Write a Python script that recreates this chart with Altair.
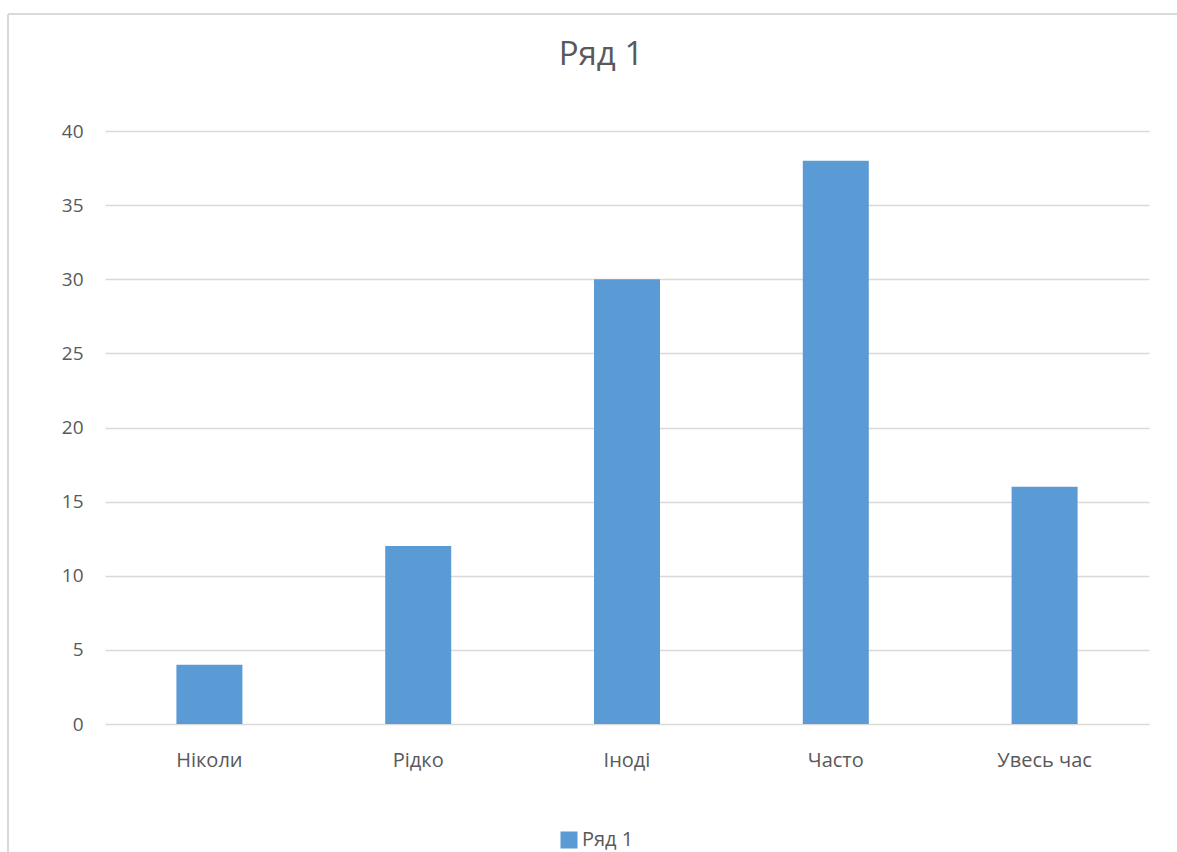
import altair as alt
import pandas as pd

categories = ["Ніколи", "Рідко", "Іноді", "Часто", "Увесь час"]
values = [4, 12, 30, 38, 16]
series_name = "Ряд 1"
y_ticks = [0, 5, 10, 15, 20, 25, 30, 35, 40]

df = pd.DataFrame({"cat": categories, "val": values, "series": [series_name] * len(categories)})

FONT = "Open Sans"
GRAY = "#595959"
W, H = 1044, 593

bars = alt.Chart(df).mark_bar(size=66, color="#5B9BD5").encode(
    x=alt.X("cat:N", sort=categories, title=None,
            scale=alt.Scale(paddingInner=0, paddingOuter=0),
            axis=alt.Axis(labelAngle=0, labelFontSize=20, labelColor=GRAY, labelFont=FONT,
                          domain=False, ticks=False, labelPadding=26)),
    y=alt.Y("val:Q", title=None, scale=alt.Scale(domain=[0, 40], nice=False),
            axis=alt.Axis(values=y_ticks, labelFontSize=19, labelColor=GRAY, labelFont=FONT,
                          domain=False, ticks=False, labelPadding=22,
                          gridColor="#d9d9d9", gridWidth=1.5)),
    color=alt.Color("series:N", scale=alt.Scale(range=["#5B9BD5"]),
                    legend=alt.Legend(title=None, orient="none", legendX=454, legendY=699,
                                      symbolType="square", symbolSize=290, symbolStrokeWidth=0,
                                      labelFontSize=20, labelColor=GRAY, labelFont=FONT,
                                      labelOffset=3)),
)

border_left = alt.Chart(df).mark_rule(color="#d9d9d9", strokeWidth=2).encode(
    x=alt.value(-97), y=alt.value(-117), y2=alt.value(H + 140)
)
border_top = alt.Chart(df).mark_rule(color="#d9d9d9", strokeWidth=2).encode(
    x=alt.value(-97), x2=alt.value(W + 40), y=alt.value(-117)
)

chart = alt.layer(border_left, border_top, bars).properties(
    width=W, height=H,
    title=alt.TitleParams(series_name, fontSize=33, color=GRAY, font=FONT, fontWeight="normal",
                          anchor="middle", dx=-26, offset=-59),
    autosize=alt.AutoSizeParams(type="none"),
    padding={"left": 105, "top": 131, "right": 28, "bottom": 128},
).configure(background="white").configure_view(stroke=None)

chart.save("out.html", embed_options={"renderer": "svg", "actions": False})
